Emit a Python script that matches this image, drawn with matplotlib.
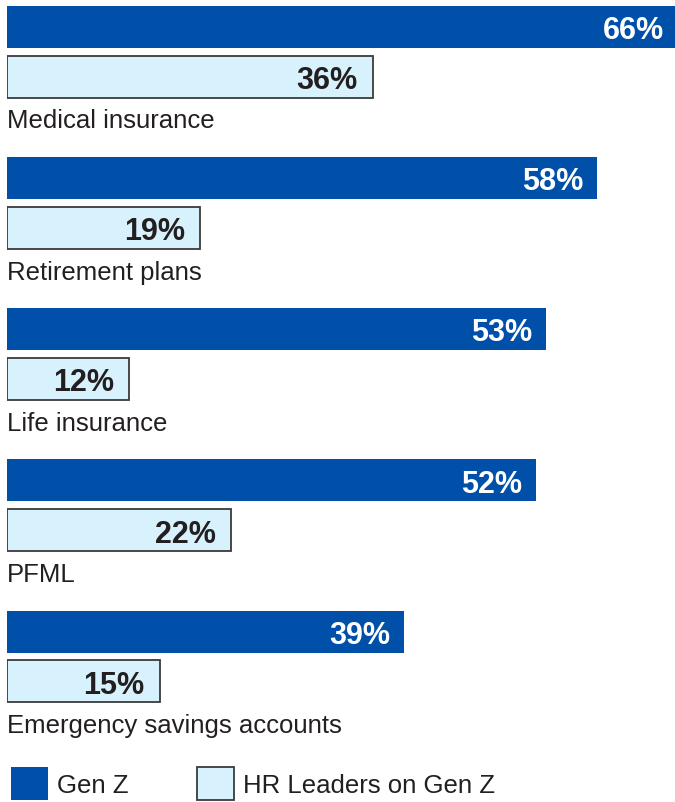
import matplotlib
matplotlib.use("Agg")
import matplotlib.pyplot as plt
from matplotlib.patches import Patch

categories = ["Medical insurance", "Retirement plans", "Life insurance", "PFML",
              "Emergency savings accounts"]
gen_z = [66, 58, 53, 52, 39]
hr_leaders = [36, 19, 12, 22, 15]
series_names = ["Gen Z", "HR Leaders on Gen Z"]

DARK = "#004FA8"
LIGHT = "#D7F1FD"
EDGE = "#3a3a3a"
TXT = "#231F20"

plt.rcParams["font.family"] = ["Liberation Sans", "DejaVu Sans"]

W, H = 675, 803
fig = plt.figure(figsize=(W / 100, H / 100), dpi=100)
pitch = 151.25  # px per group
left_px = 7
ax = fig.add_axes([left_px / W, 0, 1 - left_px / W, 1])
ax.set_xlim(0, (W - left_px) / 10.17)
ax.set_ylim(H / pitch, 0)
ax.axis("off")

bar_h = 42 / pitch
off_a = 27.5 / pitch
off_b = 77.5 / pitch
off_lbl = 119 / pitch

LBL_FS = 18.5
PCT_FS = 22

for i, (cat, g, h) in enumerate(zip(categories, gen_z, hr_leaders)):
    ax.barh(i + off_a, g, height=bar_h, left=0, color=DARK, edgecolor="none")
    ax.barh(i + off_b, h, height=bar_h, left=0, color=LIGHT, edgecolor=EDGE, linewidth=1.3)
    ax.text(g - 1.35, i + off_a, f"{g}%", ha="right", va="center_baseline",
            color="white", fontsize=PCT_FS, fontweight="bold")
    ax.text(h - 1.5, i + off_b, f"{h}%", ha="right", va="center_baseline",
            color=TXT, fontsize=PCT_FS, fontweight="bold")
    ax.text(0, i + off_lbl, cat, ha="left", va="center_baseline",
            color=TXT, fontsize=LBL_FS)

handles = [Patch(facecolor=DARK, edgecolor="none"),
           Patch(facecolor=LIGHT, edgecolor=EDGE, linewidth=1.3)]
fig.legend(handles, series_names, loc="upper left",
           bbox_to_anchor=(11 / W, 1 - 768 / H), ncol=2, frameon=False,
           fontsize=LBL_FS, handlelength=1.44, handleheight=1.62, handletextpad=0.35,
           columnspacing=2.68, borderpad=0, borderaxespad=0, labelcolor=TXT)

fig.savefig("out.png", dpi=100)
